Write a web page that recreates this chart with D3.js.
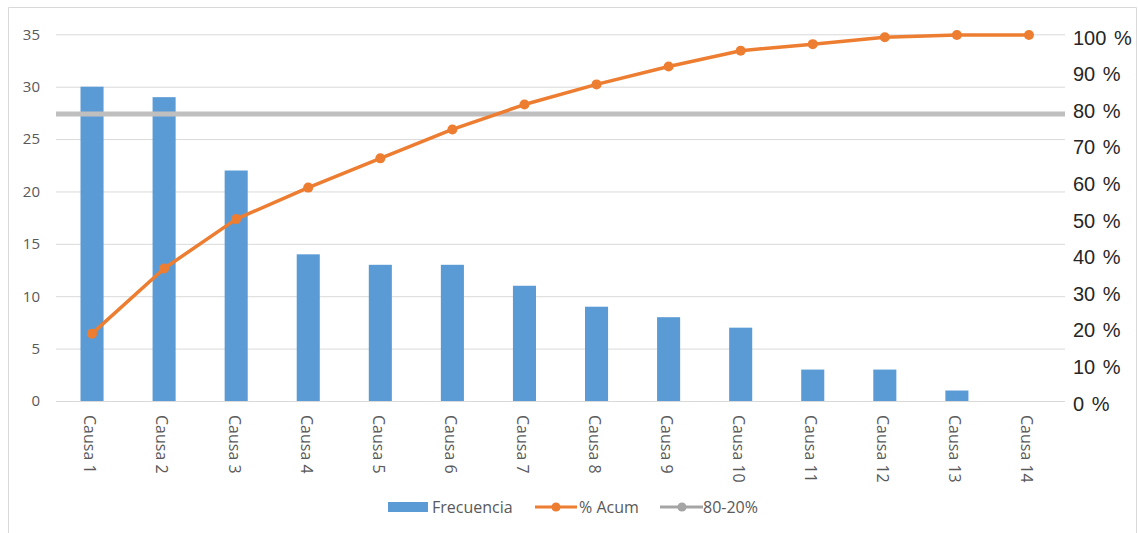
<!DOCTYPE html>
<html>
<head>
<meta charset="utf-8">
<script src="https://cdn.jsdelivr.net/npm/d3@7"></script>
<style>
  html, body { margin: 0; padding: 0; background: #fff; }
  svg { display: block; }
</style>
</head>
<body>
<svg id="chart" width="1138" height="533"></svg>
<script>
// ---- Data ----
const categories = ["Causa 1","Causa 2","Causa 3","Causa 4","Causa 5","Causa 6","Causa 7",
                    "Causa 8","Causa 9","Causa 10","Causa 11","Causa 12","Causa 13","Causa 14"];
const frecuencia = [30, 29, 22, 14, 13, 13, 11, 9, 8, 7, 3, 3, 1, 0];
const acumPct = [18.4, 36.2, 49.7, 58.3, 66.3, 74.2, 81.0, 86.5, 91.4, 95.7, 97.5, 99.4, 100, 100];
const refLinePct = 78.4;
const leftTicks = [0, 5, 10, 15, 20, 25, 30, 35];
const rightTicks = [0, 10, 20, 30, 40, 50, 60, 70, 80, 90, 100];
const legendLabels = ["Frecuencia", "% Acum", "80-20%"];

// ---- Layout ----
const svg = d3.select("#chart");
const plot = { left: 56, right: 1065, top: 34.3, bottom: 401 };
const font = "'Open Sans', 'Liberation Sans', sans-serif";
const blue = "#5B9BD5", orange = "#ED7D31", gray = "#BFBFBF";

// chart border
svg.append("path")
  .attr("d", "M8.5,540 V7.5 H1136.5 V540")
  .attr("fill", "none").attr("stroke", "#D9D9D9").attr("stroke-width", 1);

const x = d3.scaleBand().domain(categories)
  .range([plot.left, plot.right]).paddingInner(0.68).paddingOuter(0.34);
const yL = d3.scaleLinear().domain([0, 35]).range([plot.bottom, plot.top]);
const yR = d3.scaleLinear().domain([0, 100]).range([plot.bottom, 35]);

// gridlines
svg.append("g")
  .attr("transform", `translate(${plot.left},0)`)
  .call(d3.axisLeft(yL).tickValues(leftTicks).tickSize(-(plot.right - plot.left)).tickFormat(""))
  .call(g => g.select(".domain").remove())
  .call(g => g.selectAll("line").attr("stroke", "#D9D9D9").attr("stroke-width", 1));

// left axis labels
svg.append("g")
  .attr("transform", `translate(${plot.left},0)`)
  .call(d3.axisLeft(yL).tickValues(leftTicks).tickSize(0).tickPadding(16))
  .call(g => g.select(".domain").remove())
  .call(g => g.selectAll("text").attr("fill", "#595959")
      .style("font-family", font).style("font-size", "15px"));

// right axis labels
svg.append("g")
  .attr("transform", `translate(${plot.right},0)`)
  .call(d3.axisRight(yR).tickValues(rightTicks).tickSize(0).tickPadding(8)
      .tickFormat(d => d + " %"))
  .call(g => g.select(".domain").remove())
  .call(g => g.selectAll("text").attr("fill", "#262626")
      .attr("dy", "0.45em")
      .style("font-family", "'Liberation Sans', sans-serif").style("font-size", "20px")
      .style("word-spacing", "2px"));

// bars
svg.append("g").selectAll("rect").data(frecuencia).join("rect")
  .attr("x", (d, i) => x(categories[i]))
  .attr("width", x.bandwidth())
  .attr("y", d => yL(d))
  .attr("height", d => yL(0) - yL(d))
  .attr("fill", blue);

// x axis (category labels)
svg.append("g")
  .attr("transform", `translate(0,${plot.bottom})`)
  .call(d3.axisBottom(x).tickSize(0).tickPadding(0))
  .call(g => g.select(".domain").remove())
  .call(g => g.selectAll("text")
      .attr("transform", "translate(-2,14) rotate(90)")
      .attr("x", 0).attr("y", 0).attr("dy", "0.35em")
      .attr("text-anchor", "start")
      .attr("fill", "#595959")
      .style("font-family", font).style("font-size", "16px"));

// reference line 80-20%
svg.append("line")
  .attr("x1", plot.left).attr("x2", plot.right)
  .attr("y1", yR(refLinePct)).attr("y2", yR(refLinePct))
  .attr("stroke", gray).attr("stroke-width", 5);

// cumulative line
const line = d3.line()
  .x((d, i) => x(categories[i]) + x.bandwidth() / 2)
  .y(d => yR(d));
svg.append("path").datum(acumPct)
  .attr("d", line).attr("fill", "none")
  .attr("stroke", orange).attr("stroke-width", 3.5).attr("stroke-linejoin", "round");
svg.append("g").selectAll("circle").data(acumPct).join("circle")
  .attr("cx", (d, i) => x(categories[i]) + x.bandwidth() / 2)
  .attr("cy", d => yR(d))
  .attr("r", 5).attr("fill", orange);

// legend
const lg = svg.append("g").style("font-family", font).style("font-size", "16px");
const ly = 507;
lg.append("rect").attr("x", 388).attr("y", ly - 5).attr("width", 40).attr("height", 10).attr("fill", blue);
lg.append("text").attr("x", 432).attr("y", ly).attr("dy", "0.35em").attr("fill", "#595959").text(legendLabels[0]);
lg.append("line").attr("x1", 535).attr("x2", 577).attr("y1", ly).attr("y2", ly)
  .attr("stroke", orange).attr("stroke-width", 3);
lg.append("circle").attr("cx", 556).attr("cy", ly).attr("r", 4.5).attr("fill", orange);
lg.append("text").attr("x", 579).attr("y", ly).attr("dy", "0.35em").attr("fill", "#595959").text(legendLabels[1]);
lg.append("line").attr("x1", 660).attr("x2", 703).attr("y1", ly).attr("y2", ly)
  .attr("stroke", "#A5A5A5").attr("stroke-width", 3);
lg.append("circle").attr("cx", 682).attr("cy", ly).attr("r", 4.5).attr("fill", "#A5A5A5");
lg.append("text").attr("x", 703).attr("y", ly).attr("dy", "0.35em").attr("fill", "#595959").text(legendLabels[2]);
</script>
</body>
</html>
